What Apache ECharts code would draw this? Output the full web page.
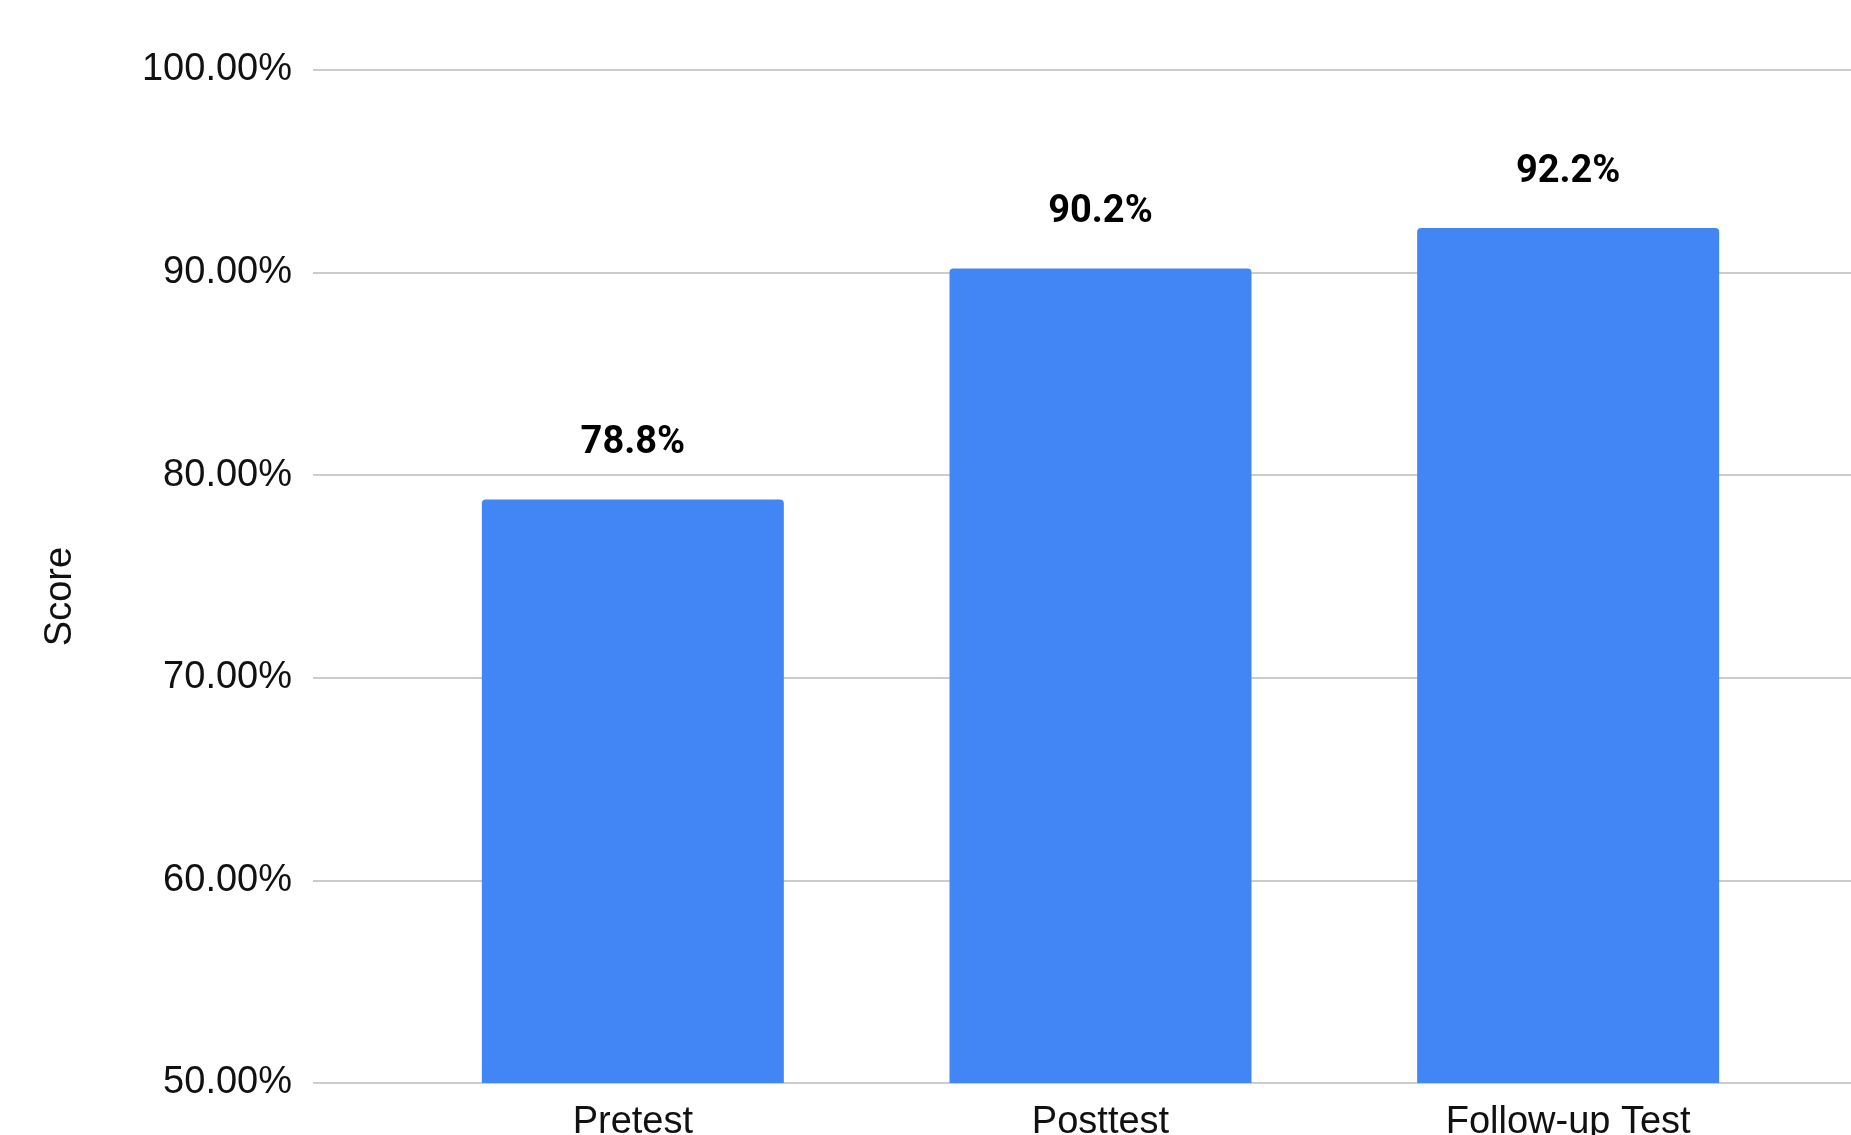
<!DOCTYPE html>
<html>
<head>
<meta charset="utf-8">
<script src="https://cdn.jsdelivr.net/npm/echarts@6/dist/echarts.min.js"></script>
<style>
html,body{margin:0;padding:0;background:#fff;}
#chart{width:1851px;height:1135px;}
</style>
</head>
<body>
<div id="chart"></div>
<script>
const categories = ['Pretest', 'Posttest', 'Follow-up Test'];
const scores = [78.8, 90.2, 92.2];
const yMin = 50, yMax = 100, yStep = 10;
const yTitle = 'Score';

const chart = echarts.init(document.getElementById('chart'), null, {renderer: 'canvas'});
const axisFont = 'Liberation Sans, Arial, Helvetica, sans-serif';
chart.setOption({
  animation: false,
  backgroundColor: '#ffffff',
  grid: [
    {left: 313, right: -10, top: 70, bottom: 52, containLabel: false, outerBoundsMode: 'none'},
    {left: 399, width: 1403, top: 70, bottom: 52, containLabel: false, outerBoundsMode: 'none'}
  ],
  xAxis: [
    {gridIndex: 0, type: 'category', data: categories, show: false},
    {
      gridIndex: 1, type: 'category', data: categories,
      axisLine: {show: false}, axisTick: {show: false},
      axisLabel: {color: '#111', fontFamily: axisFont, fontSize: 38, margin: 21}
    }
  ],
  yAxis: [
    {
      gridIndex: 0, type: 'value', min: yMin, max: yMax, interval: yStep,
      name: yTitle, nameLocation: 'middle', nameGap: 233,
      nameTextStyle: {color: '#111', fontFamily: axisFont, fontSize: 38, padding: [0, 40, 0, 0]},
      axisLine: {show: false}, axisTick: {show: false},
      axisLabel: {
        color: '#111', fontFamily: axisFont, fontSize: 38, margin: 21,
        formatter: v => v.toFixed(2) + '%'
      },
      splitLine: {lineStyle: {color: '#cccccc', width: 2}}
    },
    {gridIndex: 1, type: 'value', min: yMin, max: yMax, interval: yStep, show: false}
  ],
  series: [{
    type: 'bar',
    xAxisIndex: 1, yAxisIndex: 1,
    data: scores,
    barWidth: 302,
    itemStyle: {color: '#4285F4', borderRadius: [4, 4, 0, 0]},
    label: {
      show: true, position: 'top', distance: 37,
      color: '#000', fontFamily: 'Roboto, sans-serif', fontWeight: 'bold', fontSize: 38,
      formatter: p => p.value.toFixed(1) + '%'
    }
  }]
});
</script>
</body>
</html>
